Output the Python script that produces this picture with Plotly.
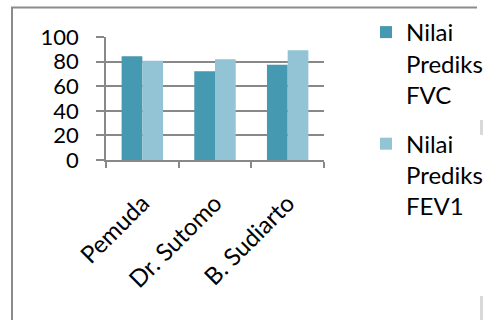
import plotly.graph_objects as go

categories = ["Pemuda", "Dr. Sutomo", "B. Sudiarto"]
fvc_values = [84.4, 72.2, 77.4]
fev1_values = [80.6, 82.0, 89.2]
series_names = ["Nilai<br>Prediksi<br>FVC", "Nilai<br>Prediksi<br>FEV1"]
y_ticks = [0, 20, 40, 60, 80, 100]

W, H = 483, 320
L, R, T, B = 106, 324, 37, 160  # plot area in pixels

def px(x):
    return (x - L) / (R - L)

def py(y):
    return (B - y) / (B - T)

FONT = "Lato"
fig = go.Figure()
fig.add_trace(go.Bar(x=categories, y=fvc_values, name=series_names[0],
                     legendgroup="fvc",
                     marker=dict(color="#4599B1", line=dict(width=0))))
fig.add_trace(go.Bar(x=categories, y=fev1_values, name=series_names[1],
                     legendgroup="fev1",
                     marker=dict(color="#93C4D6", line=dict(width=0))))

grid = "#888888"
fig.update_layout(
    width=W, height=H,
    margin=dict(l=L, r=W - R, t=T, b=H - B, autoexpand=False),
    paper_bgcolor="white", plot_bgcolor="white",
    barmode="group", bargap=0.43, bargroupgap=0,
    font=dict(family=FONT, color="black", size=22),
    legend=dict(x=px(366), y=py(10), xanchor="left", yanchor="top",
                font=dict(size=24, family=FONT), itemwidth=30,
                valign="top", maxheight=310,
                tracegroupgap=15, traceorder="grouped",
                bgcolor="rgba(0,0,0,0)"),
    xaxis=dict(showgrid=False, tickangle=-45, tickson="boundaries",
               ticks="outside", ticklen=6, tickcolor=grid, tickwidth=1.5,
               showline=True, linecolor=grid, linewidth=1.5,
               ticklabelstandoff=18,
               tickfont=dict(size=24, family=FONT), fixedrange=True),
    yaxis=dict(range=[0, 100], tickvals=y_ticks, showgrid=True,
               gridcolor=grid, gridwidth=1.5, ticks="outside", ticklen=8,
               tickcolor=grid, tickwidth=1.5, showline=True, linecolor=grid,
               linewidth=1.5, zeroline=False, ticklabelstandoff=13,
               tickfont=dict(size=22, family=FONT), fixedrange=True),
    shapes=[
        dict(type="line", xref="paper", yref="paper", x0=px(12), x1=px(12),
             y0=py(7), y1=py(322), line=dict(color="#8c8c8c", width=2)),
        dict(type="line", xref="paper", yref="paper", x0=px(11), x1=px(477),
             y0=py(7.5), y1=py(7.5), line=dict(color="#8c8c8c", width=2)),
        dict(type="rect", xref="paper", yref="paper", x0=px(480), x1=px(484),
             y0=py(120), y1=py(135), fillcolor="#d9d9d9", line=dict(width=0)),
        dict(type="rect", xref="paper", yref="paper", x0=px(480), x1=px(484),
             y0=py(296), y1=py(322), fillcolor="#d9d9d9", line=dict(width=0)),
    ],
)

fig.write_html("out.html")
